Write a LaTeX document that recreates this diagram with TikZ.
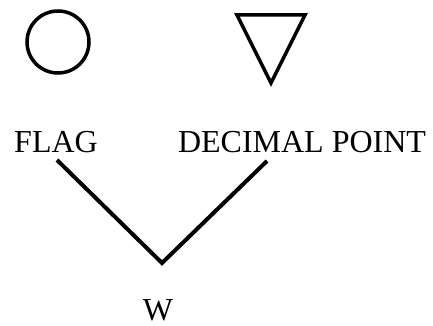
\documentclass[tikz,border=0pt]{standalone}
\usepackage{fontspec}
\setmainfont{Liberation Serif}
\usepackage{tikz}
\usetikzlibrary{positioning,calc}

\begin{document}
\begin{tikzpicture}[
    x=1pt,y=-1pt,
    lbl/.style={inner sep=0pt,anchor=base,font=\fontsize{32}{38}\selectfont},
    sym/.style={draw,line width=3.5pt},
    leg/.style={line width=4pt}
]
\useasboundingbox (0,0) rectangle (433,326);
% symbols
\node[sym,circle,minimum size=62pt,inner sep=0pt] (flagsym) at (58,42) {};
\coordinate (tl) at (237,15);
\coordinate (tr) at (305,15);
\coordinate (tb) at (271,83);
\draw[sym,line join=miter] (tl) -- (tr) -- (tb) -- cycle;
% labels
\node[lbl] (flag) at (56,152) {FLAG};
\node[lbl] (dp) at (302,152) {DECIMAL POINT};
\node[lbl] (w) at (158,320) {W};
% the V
\coordinate (flagfoot) at (57,160);
\coordinate (dpfoot) at (267,161);
\coordinate (join) at (162,263);
\draw[leg] (flagfoot) -- (join) -- (dpfoot);
\end{tikzpicture}
\end{document}
